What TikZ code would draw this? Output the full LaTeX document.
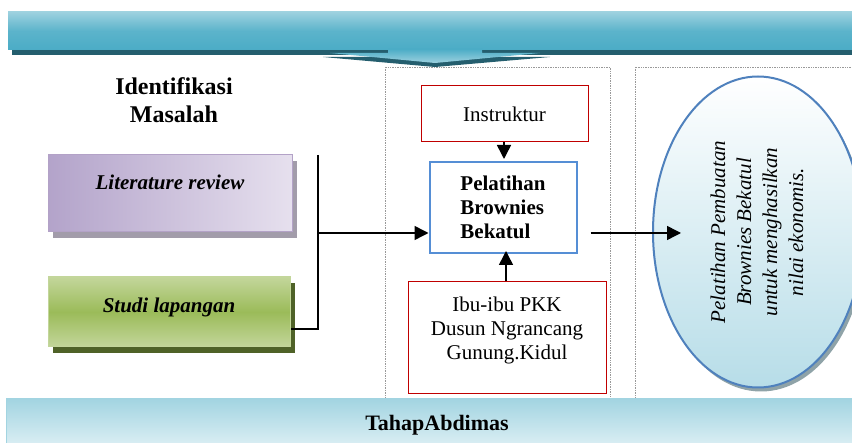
\documentclass[tikz,border=0pt]{standalone}
\usepackage{fontspec}
\setmainfont{Liberation Serif}
\usetikzlibrary{arrows.meta,shapes.geometric,shadows}
\definecolor{bnLight}{HTML}{9DD1DF}
\definecolor{bnMid}{HTML}{4BACC6}
\definecolor{bnDark}{HTML}{245E6E}
\definecolor{litA}{HTML}{B3A3CA}
\definecolor{litB}{HTML}{E6E0EE}
\definecolor{litBorder}{HTML}{B3A2C7}
\definecolor{litShadow}{HTML}{A29CAA}
\definecolor{grA}{HTML}{C3D69B}
\definecolor{grB}{HTML}{9BBB59}
\definecolor{grShadow}{HTML}{4F6228}
\definecolor{redB}{HTML}{C00000}
\definecolor{blueB}{HTML}{558ED5}
\definecolor{ellB}{HTML}{4F81BD}
\definecolor{ellFill}{HTML}{B7DDE8}
\definecolor{ellShadow}{HTML}{8FA3A8}
\definecolor{botA}{HTML}{A2D4E1}
\definecolor{botB}{HTML}{DCEFF4}
\begin{document}
\begin{tikzpicture}[x=1pt,y=-1pt,
  txt/.style={font=\fontsize{21}{24}\selectfont},
  redbox/.style={draw=redB, line width=1pt, txt, align=center},
  bluebox/.style={draw=blueB, line width=2pt, txt, align=left, font=\fontsize{21}{24}\selectfont\bfseries},
  litbox/.style={draw=litBorder, line width=1pt, left color=litA, right color=litB,
     minimum width=244pt, minimum height=77pt,
     drop shadow={shadow xshift=5pt, shadow yshift=-6pt, fill=litShadow, opacity=1}},
  grbox/.style={draw=grA, line width=1pt, top color=grA, bottom color=grA, middle color=grB,
     minimum width=242pt, minimum height=70pt,
     drop shadow={shadow xshift=5pt, shadow yshift=-6pt, fill=grShadow, opacity=1}},
  frame/.style={draw=gray!80, densely dotted, line width=0.7pt},
  conn/.style={line width=1.5pt},
  arr/.style={line width=1.5pt, -{Triangle[length=14pt,width=14pt]}},
  ell/.style={ellipse, draw=ellB, line width=2pt, top color=white, bottom color=ellFill,
     minimum width=210pt, minimum height=311pt, inner sep=0pt,
     drop shadow={shadow xshift=3pt, shadow yshift=-4pt, fill=ellShadow, opacity=1}}
]
\useasboundingbox (0,0) rectangle (852,443);
\clip (0,0) rectangle (852,443);
\fill[white] (0,0) rectangle (852,443);

% dotted frames
\draw[frame] (385,67) rectangle (610,410);
\draw[frame] (635,67) rectangle (870,410);

% top banner
\fill[bnDark] (12,17) rectangle (870,55);
\shade[top color=bnLight, bottom color=bnMid, middle color=bnMid!80!bnLight] (8,12) rectangle (870,50);
\fill[bnDark] (323,57) -- (550,57) -- (435,67) -- cycle;
\shade[top color=bnMid, bottom color=bnLight] (388,49) -- (482,49) -- (482,53) -- (540,53) -- (435,63) -- (330,53) -- (388,53) -- cycle;

% heading
\node[font=\fontsize{24}{28}\selectfont\bfseries, align=center] (ident) at (174,100) {Identifikasi\\Masalah};

% left boxes
\node[litbox, label={[yshift=11pt, font=\fontsize{21}{24}\selectfont\bfseries\itshape]center:Literature review}] (lit) at (170,193.5) {};
\node[grbox, label={[yshift=5pt, font=\fontsize{21}{24}\selectfont\bfseries\itshape]center:Studi lapangan}] (studi) at (169,312) {};

% bracket
\coordinate (b1) at (318,155);
\coordinate (b2) at (318,329);
\coordinate (b3) at (318,233);
\draw[conn] (b1) -- (b2) -- (studi.east |- b2);

% middle boxes
\node[redbox, minimum width=167pt, minimum height=56pt] (ins) at (504.5,114) {Instruktur};
\node[bluebox, minimum width=147pt, minimum height=91pt] (pel) at (503,207.5) {Pelatihan\\Brownies\\Bekatul};
\node[redbox, minimum width=198pt, minimum height=112pt,
      label={[yshift=8pt, txt, align=center]center:Ibu-ibu PKK\\Dusun Ngrancang\\Gunung.Kidul}] (ibu) at (507,338) {};

\draw[arr] (b3) -- (pel.west |- b3);
\draw[arr, shorten >=2pt] (ins.south -| 504,0) -- (pel.north -| 504,0);
\draw[arr, shorten >=-3pt] (ibu.north -| 506,0) -- (pel.south -| 506,0);

% ellipse
\node[ell] (out) at (758,232) {};
\node[rotate=90, font=\fontsize{21}{26}\selectfont\itshape, align=center] (outtxt) at (757,232)
  {Pelatihan Pembuatan\\Brownies Bekatul\\untuk menghasilkan\\nilai ekonomis.};
\coordinate (e1) at (681,233);
\draw[arr, shorten <=13pt] (pel.east |- b3) -- (e1);

% bottom banner
\node[draw=botA, line width=1pt, top color=botA, bottom color=botB, minimum width=860pt, minimum height=48pt,
      anchor=north west, inner sep=0pt] (bot) at (6,398) {};
\node[font=\fontsize{22}{26}\selectfont\bfseries] (tahap) at (437,425) {TahapAbdimas};
\end{tikzpicture}
\end{document}
